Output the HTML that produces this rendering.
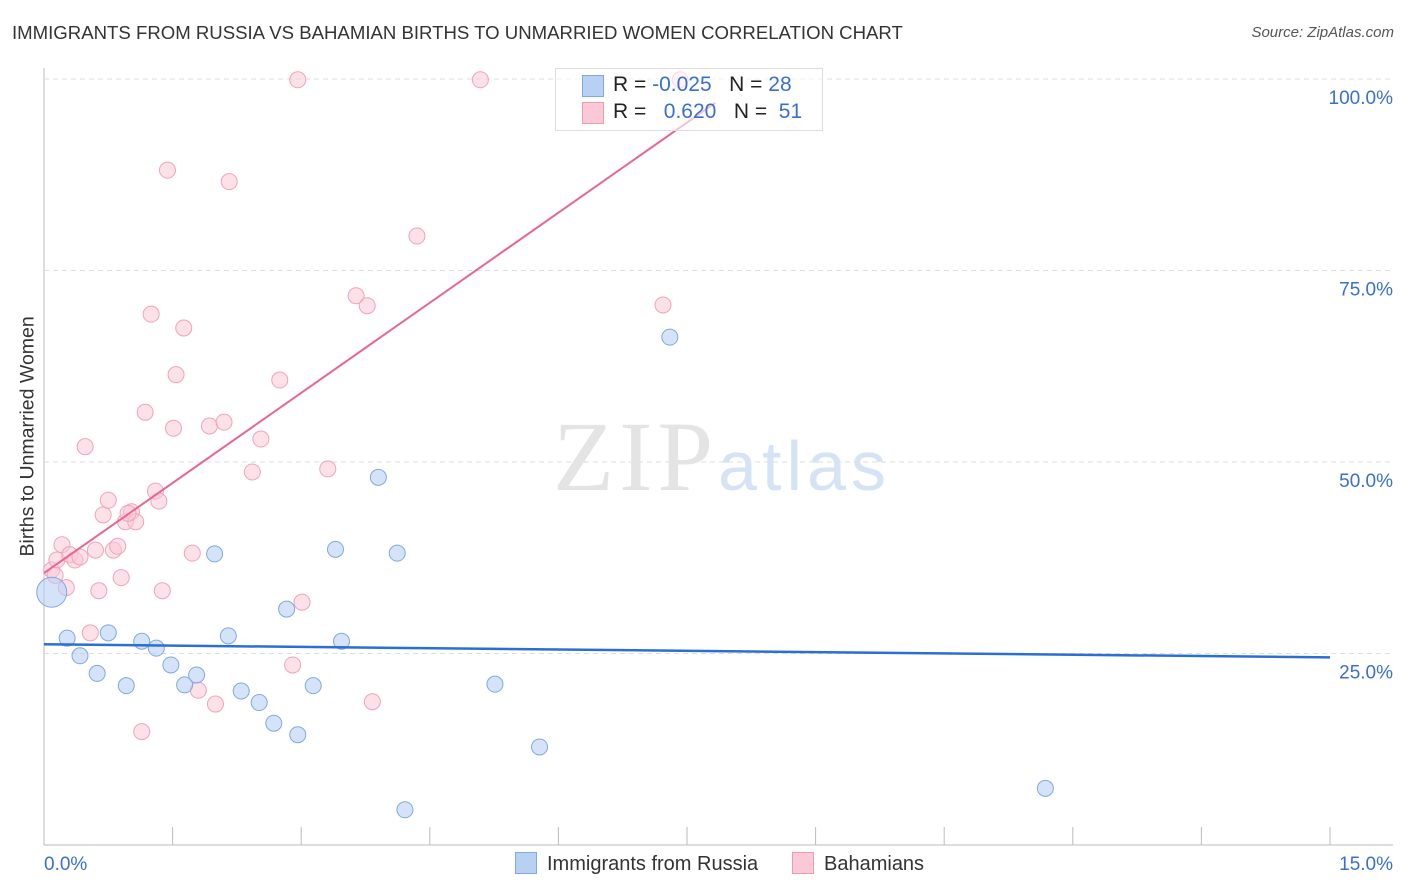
<!DOCTYPE html>
<html><head><meta charset="utf-8"><style>
body{margin:0;background:#fff;font-family:"Liberation Sans",sans-serif;}
#wrap{position:relative;width:1406px;height:892px;overflow:hidden;}
.t{position:absolute;white-space:nowrap;}
</style></head><body>
<div id="wrap">
<div class="t" style="left:12px;top:22px;font-size:18.6px;color:#333;">IMMIGRANTS FROM RUSSIA VS BAHAMIAN BIRTHS TO UNMARRIED WOMEN CORRELATION CHART</div>
<div class="t" style="right:12px;top:24px;font-size:15px;color:#555;font-style:italic;">Source: ZipAtlas.com</div>
<div class="t" style="left:-72px;top:445px;transform:rotate(-90deg);font-size:19.5px;color:#333;width:200px;text-align:center;">Births to Unmarried Women</div>
<svg id="svg" width="1406" height="892" style="position:absolute;left:0;top:0"></svg>
<div class="t" style="left:555px;top:68px;width:266px;height:61px;border:1px solid #ddd;background:rgba(255,255,255,0.6);"></div>
<div class="t" style="left:582px;top:75px;width:20px;height:20px;background:#b8d1f3;border:1px solid #7fa9e4;"></div>
<div class="t" style="left:582px;top:102px;width:20px;height:20px;background:#fbc8d7;border:1px solid #f09bb4;"></div>
<div class="t" style="left:613px;top:73px;font-size:21px;color:#222;">R = <span style="color:#3a6fd1">-0.025</span>&nbsp;&nbsp;&nbsp;N = <span style="color:#3a6fd1">28</span></div>
<div class="t" style="left:613px;top:100px;font-size:21px;color:#222;">R = &nbsp;&nbsp;<span style="color:#3a6fd1">0.620</span>&nbsp;&nbsp;&nbsp;N = &nbsp;<span style="color:#3a6fd1">51</span></div>
<div class="t" style="left:515px;top:852px;font-size:20px;color:#333;"><span style="display:inline-block;width:20px;height:20px;background:#b8d1f3;border:1px solid #7fa9e4;vertical-align:-4px;margin-right:10px"></span>Immigrants from Russia</div>
<div class="t" style="left:792px;top:852px;font-size:20px;color:#333;"><span style="display:inline-block;width:20px;height:20px;background:#fbc8d7;border:1px solid #f09bb4;vertical-align:-4px;margin-right:10px"></span>Bahamians</div>
</div>
<script>
const russiaX=[0.09,0.27,0.42,0.62,0.75,0.96,1.14,1.31,1.48,1.64,1.78,1.99,2.15,2.30,2.51,2.68,2.83,2.96,3.14,3.40,3.47,3.90,4.12,4.21,5.26,5.78,7.30,11.68];
const russiaY=[33.0,27.0,24.7,22.4,27.7,20.8,26.6,25.7,23.5,20.9,22.2,38.0,27.3,20.1,18.6,15.9,30.8,14.4,20.8,38.6,26.6,48.0,38.1,4.6,21.0,12.8,66.3,7.4];
const bahX=[0.09,0.15,0.21,0.26,0.30,0.36,0.42,0.48,0.54,0.60,0.64,0.69,0.75,0.81,0.86,0.90,0.95,1.02,1.07,1.14,1.18,1.25,1.30,1.34,1.38,1.44,1.51,1.54,1.63,1.73,1.80,1.93,2.00,2.10,2.16,2.43,2.53,2.75,2.90,2.96,3.01,3.31,3.64,3.77,3.83,4.35,5.09,7.22,7.42,0.13,0.98];
const bahY=[35.9,37.2,39.2,33.6,37.9,37.2,37.6,52.0,27.7,38.5,33.2,43.1,45.0,38.5,39.0,34.9,42.2,43.5,42.2,14.8,56.5,69.3,46.2,44.9,33.2,88.1,54.4,61.4,67.5,38.1,20.2,54.7,18.4,55.2,86.6,48.7,53.0,60.7,23.5,99.9,31.7,49.1,71.7,70.4,18.7,79.5,99.9,70.5,99.9,35.2,43.3];
const yTicks=[25,50,75,100];
const yTickLabels=["25.0%","50.0%","75.0%","100.0%"];
const xTickLabels=["0.0%","15.0%"];
const russiaLine=[26.2,24.5];
const bahLine=[35.5,96.9];
const bahLineEndX=7.83;
const X0=44,X1=1330,Y0=845,YS=7.66;
const sx=v=>X0+(v/15)*(X1-X0), sy=v=>Y0-v*YS;
const svg=document.getElementById('svg');const NS='http://www.w3.org/2000/svg';
function mk(t,a){const e=document.createElementNS(NS,t);for(const k in a)e.setAttribute(k,a[k]);svg.appendChild(e);return e;}
let e;
e=mk('line',{x1:X0,y1:68,x2:X0,y2:Y0,stroke:'#bbb'});


e=mk('line',{x1:X0,y1:Y0,x2:1393,y2:Y0,stroke:'#bbb'});


for(let i=0;i<=10;i++){e=mk('line',{x1:sx(i*1.5),y1:Y0,x2:sx(i*1.5),y2:Y0-18,stroke:'#bbb'});

}
yTicks.forEach((v,i)=>{e=mk('line',{x1:X0,y1:sy(v),x2:1393,y2:sy(v),stroke:'#ddd','stroke-dasharray':'5,4'});


e=mk('text',{x:1393,y:sy(v)+25,'text-anchor':'end','font-size':19,fill:'#3a6fd1','font-family':'Liberation Sans'});e.textContent=yTickLabels[i];

});
e=mk('text',{x:44,y:870,'font-size':19,fill:'#3a6fd1','font-family':'Liberation Sans'});e.textContent=xTickLabels[0];


e=mk('text',{x:1393,y:870,'text-anchor':'end','font-size':19,fill:'#3a6fd1','font-family':'Liberation Sans'});e.textContent=xTickLabels[1];


e=mk('text',{x:553,y:490,'font-size':100,fill:'#e4e4e4','font-family':'Liberation Serif',textLength:160});e.textContent='ZIP';


e=mk('text',{x:718,y:490,'font-size':70,fill:'#d6e3f5','font-family':'Liberation Sans',textLength:168});e.textContent='atlas';


bahX.forEach((x,i)=>{e=mk('circle',{cx:sx(x),cy:sy(bahY[i]),r:8,fill:'rgba(251,200,215,0.55)',stroke:'#f0a3bb','stroke-width':1});

});
russiaX.forEach((x,i)=>{e=mk('circle',{cx:sx(x),cy:sy(russiaY[i]),r:i==0?15:8,fill:'rgba(184,209,243,0.6)',stroke:'#7fa9e4','stroke-width':1});

});
e=mk('line',{x1:sx(0),y1:sy(bahLine[0]),x2:sx(bahLineEndX),y2:sy(bahLine[1]),stroke:'#e8668f','stroke-width':2});


e=mk('line',{x1:sx(0),y1:sy(russiaLine[0]),x2:sx(15),y2:sy(russiaLine[1]),stroke:'#2b6fd4','stroke-width':2.5});


</script>
</body></html>
